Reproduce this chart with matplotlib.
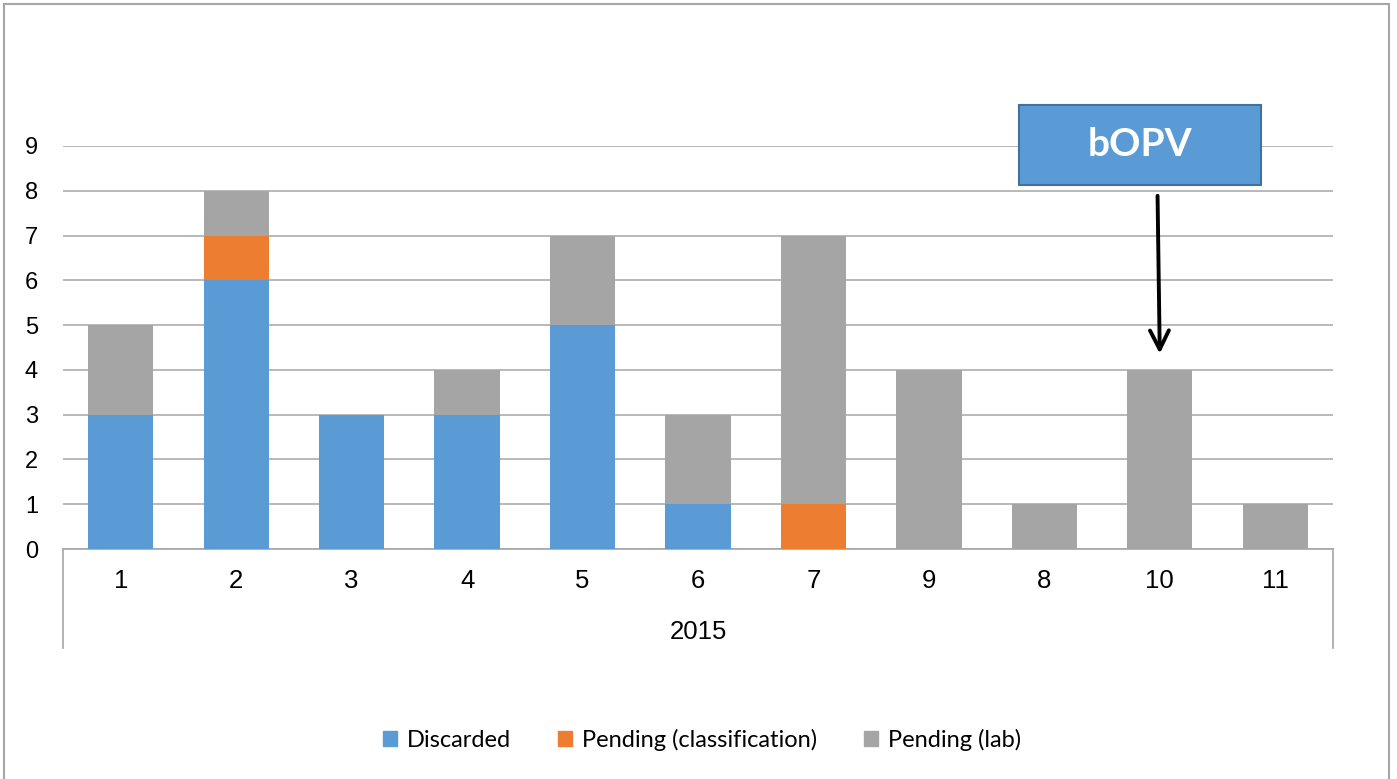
import numpy as np
import matplotlib
matplotlib.use('Agg')
import matplotlib.pyplot as plt
from matplotlib.patches import Rectangle
from matplotlib.lines import Line2D

# data
months = ['1', '2', '3', '4', '5', '6', '7', '9', '8', '10', '11']
year_label = '2015'
discarded = [3, 6, 3, 3, 5, 1, 0, 0, 0, 0, 0]
pending_class = [0, 1, 0, 0, 0, 0, 1, 0, 0, 0, 0]
pending_lab = [2, 1, 0, 1, 2, 2, 6, 4, 1, 4, 1]

series = ['Discarded', 'Pending (classification)', 'Pending (lab)']
colors = ['#5B9BD5', '#ED7D31', '#A5A5A5']

W, H = 1397, 779
fig = plt.figure(figsize=(W / 100, H / 100), dpi=100)

# outer chart frame
fig.patches.append(Rectangle((4 / W, -0.05), (1389 - 4) / W, 1 - 4 / H + 0.05,
                             transform=fig.transFigure, fill=False,
                             edgecolor='#A6A6A6', lw=1.5))

ax = fig.add_axes([63 / W, 1 - 549 / H, (1333 - 63) / W, (549 - 146) / H])

x = np.arange(len(months))
width = 0.565
d = np.array(discarded)
c = np.array(pending_class)
l = np.array(pending_lab)
ax.bar(x, d, width, color=colors[0], zorder=3)
ax.bar(x, c, width, bottom=d, color=colors[1], zorder=3)
ax.bar(x, l, width, bottom=d + c, color=colors[2], zorder=3)

ax.set_xlim(-0.5, len(months) - 0.5)
ax.set_ylim(0, 9)
ax.set_yticks(range(0, 10))
ax.yaxis.grid(True, color='#A6A6A6', lw=1.1, zorder=0)
ax.set_axisbelow(True)
ax.tick_params(axis='y', length=0, pad=18, labelsize=17)
for t in ax.get_yticklabels():
    t.set_fontfamily('Liberation Sans')
ax.set_xticks([])
for s in ['left', 'right', 'top']:
    ax.spines[s].set_visible(False)
ax.spines['bottom'].set_color('#A6A6A6')
ax.spines['bottom'].set_linewidth(1.2)

# two-level category axis
trans = ax.get_xaxis_transform()
for xi, m in zip(x, months):
    ax.text(xi, -0.079, m, transform=trans, ha='center', va='center',
            fontsize=18.5, family='Liberation Sans')
ax.text((len(months) - 1) / 2, -0.205, year_label, transform=trans,
        ha='center', va='center', fontsize=18.5, family='Liberation Sans')
for xe in [-0.5, len(months) - 0.5]:
    ax.add_line(Line2D([xe, xe], [0, -0.245], transform=trans,
                       color='#A6A6A6', lw=1.2, clip_on=False))

# bOPV callout
box = Rectangle((7.78, 8.13), 2.1, 1.79, facecolor='#5B9BD5',
                edgecolor='#41719C', lw=1.5, clip_on=False, zorder=5)
ax.add_patch(box)
ax.text(7.78 + 1.05, 8.13 + 0.895, 'bOPV', ha='center', va='center',
        color='white', fontsize=28, fontweight='bold', family='Lato',
        zorder=6, clip_on=False)
ax.annotate('', xy=(9.0, 4.3), xytext=(8.98, 7.95),
            arrowprops=dict(arrowstyle='->', color='black', lw=2.8,
                            mutation_scale=34), zorder=6)

handles = [Rectangle((0, 0), 1, 1, color=col) for col in colors]
fig.legend(handles, series, loc='center', bbox_to_anchor=(702 / W, 1 - 740 / H),
           ncol=3, frameon=False, prop={'family': 'Lato', 'size': 17},
           handlelength=0.6, handleheight=0.6, handletextpad=0.4,
           columnspacing=2.0)

fig.savefig('out.png', dpi=100)
